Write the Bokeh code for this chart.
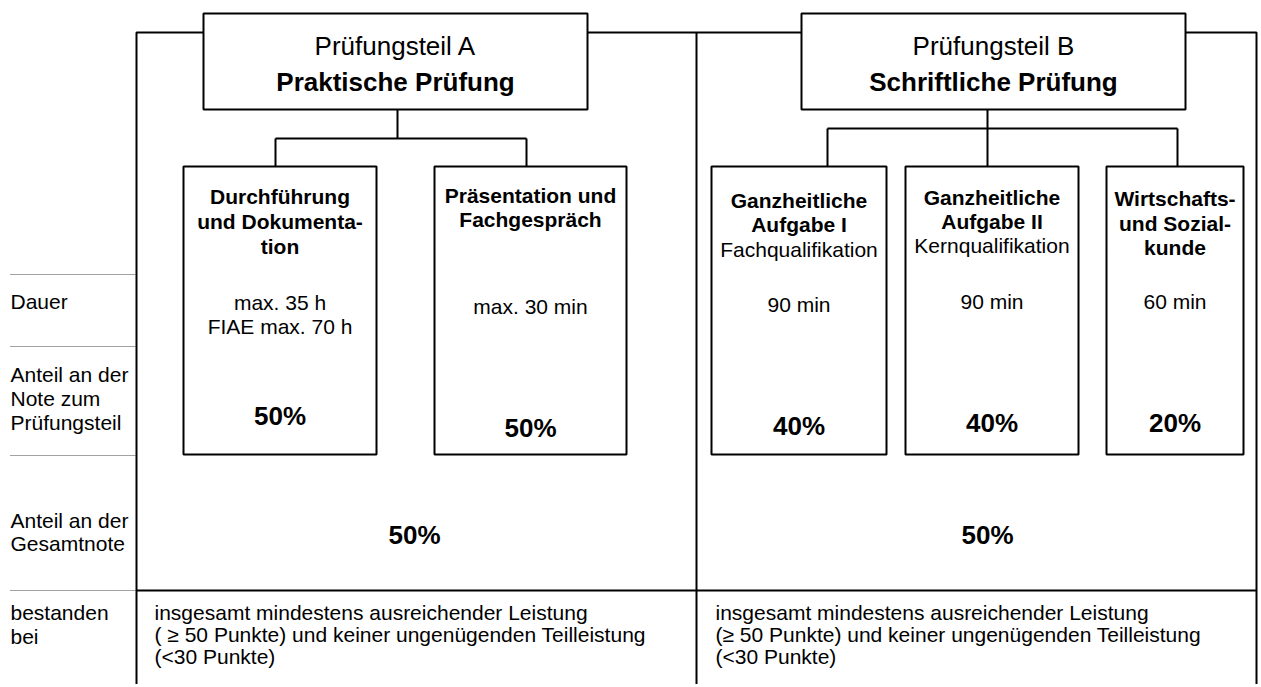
from bokeh.plotting import figure
from bokeh.models import Range1d
from bokeh.embed import file_html
from bokeh.resources import INLINE
from bokeh.core.properties import value

FONT = value("Liberation Sans")

# ---------------- content ----------------
row_labels = [["Dauer"],
              ["Anteil an der", "Note zum", "Prüfungsteil"],
              ["Anteil an der", "Gesamtnote"],
              ["bestanden", "bei"]]
part_titles = ["Prüfungsteil A", "Prüfungsteil B"]
part_names = ["Praktische Prüfung", "Schriftliche Prüfung"]
sub_titles = [["Durchführung", "und Dokumenta-", "tion"],
              ["Präsentation und", "Fachgespräch"],
              ["Ganzheitliche", "Aufgabe I"],
              ["Ganzheitliche", "Aufgabe II"],
              ["Wirtschafts-", "und Sozial-", "kunde"]]
sub_notes = ["", "", "Fachqualifikation", "Kernqualifikation", ""]
durations = [["max. 35 h", "FIAE max. 70 h"], ["max. 30 min"], ["90 min"], ["90 min"], ["60 min"]]
share_part = [50, 50, 40, 40, 20]
share_total = [50, 50]
pass_rule = [["insgesamt mindestens ausreichender Leistung",
              "( \u2265 50 Punkte) und keiner ungenügenden Teilleistung",
              "(<30 Punkte)"],
             ["insgesamt mindestens ausreichender Leistung",
              "(\u2265 50 Punkte) und keiner ungenügenden Teilleistung",
              "(<30 Punkte)"]]

# ---------------- layout (page pixels) ----------------
W, H = 1258, 684
label_x = 10
label_y = [[301], [374, 398, 422], [520, 543], [612, 636]]
sep_y = [274, 346, 455, 590]
frame_left, frame_mid, frame_right, frame_top, frame_bottom = 136, 696, 1256, 32, 690
part_boxes = [(203, 587, 13, 109), (801, 1185, 13, 109)]
part_title_y, part_name_y = 45, 81
sub_boxes = [(183, 376), (434, 626), (711, 886), (905, 1078), (1106, 1243)]
sub_top, sub_bottom = 166, 454
sub_title_y = [[196, 221, 246], [195, 219], [200, 224], [197, 221], [198, 223, 247]]
sub_note_y = [0, 0, 249, 245, 0]
dur_y = [[302, 326], [306], [304], [301], [301]]
pct_y = [415, 427, 425, 422, 422]
total_x, total_y = [414, 987], 534
rule_x, rule_y = [154, 715], [612, 634, 656]
conn_A = dict(stem_x=397, stem_end=138, bar_y=138, drops=[275, 526])
conn_B = dict(stem_x=987, stem_end=166, bar_y=128, drops=[827, 1177])

p = figure(width=W, height=H, output_backend="svg", toolbar_location=None,
           x_range=Range1d(0, W), y_range=Range1d(H, 0),
           x_axis_type=None, y_axis_type=None, min_border=0)
p.outline_line_color = None
p.grid.visible = False
p.background_fill_color = "white"
p.border_fill_color = "white"

LW = 2
# frame lines
xs = [[frame_left, frame_left, part_boxes[0][0]],
      [part_boxes[0][1], part_boxes[1][0]],
      [frame_mid, frame_mid],
      [part_boxes[1][1], frame_right, frame_right],
      [frame_left, frame_right]]
ys = [[frame_bottom, frame_top, frame_top],
      [frame_top, frame_top],
      [frame_top, frame_bottom],
      [frame_top, frame_top, frame_bottom],
      [sep_y[3], sep_y[3]]]
# connectors
for c, box in ((conn_A, part_boxes[0]), (conn_B, part_boxes[1])):
    xs.append([c["stem_x"], c["stem_x"]]); ys.append([box[3], c["stem_end"]])
    xs.append([c["drops"][0], c["drops"][1]]); ys.append([c["bar_y"], c["bar_y"]])
    for d in c["drops"]:
        xs.append([d, d]); ys.append([c["bar_y"], sub_top])
p.multi_line(xs, ys, line_color="black", line_width=LW)

# dotted row separators on the left
p.multi_line([[label_x, frame_left] for _ in sep_y], [[y, y] for y in sep_y],
             line_color="#444444", line_width=1, line_dash="1 1")

# boxes
p.quad(left=[b[0] for b in part_boxes], right=[b[1] for b in part_boxes],
       top=[b[2] for b in part_boxes], bottom=[b[3] for b in part_boxes],
       fill_color="white", line_color="black", line_width=LW)
p.quad(left=[b[0] for b in sub_boxes], right=[b[1] for b in sub_boxes],
       top=[sub_top] * len(sub_boxes), bottom=[sub_bottom] * len(sub_boxes),
       fill_color="white", line_color="black", line_width=LW)


def txt(x, y, s, size, bold=False, align="center"):
    p.text(x=x, y=y, text=s, text_font=FONT, text_font_size=size,
           text_font_style="bold" if bold else "normal",
           text_align=align, text_baseline="middle", text_color="black")


# left labels
for lines, yy in zip(row_labels, label_y):
    txt([label_x] * len(lines), yy, lines, "21px", align="left")

# part titles
for (l, r, t, b), ttl, nm in zip(part_boxes, part_titles, part_names):
    cx = (l + r) / 2
    txt([cx], [part_title_y], [ttl], "26px")
    txt([cx], [part_name_y], [nm], "26px", bold=True)

# sub boxes
for i, (l, r) in enumerate(sub_boxes):
    cx = (l + r) / 2
    txt([cx] * len(sub_titles[i]), sub_title_y[i], sub_titles[i], "21px", bold=True)
    if sub_notes[i]:
        txt([cx], [sub_note_y[i]], [sub_notes[i]], "21px")
    txt([cx] * len(durations[i]), dur_y[i], durations[i], "21px")
    txt([cx], [pct_y[i]], [f"{share_part[i]}%"], "26px", bold=True)

# total share
txt(total_x, [total_y] * 2, [f"{v}%" for v in share_total], "26px", bold=True)

# pass rules
for x0, lines in zip(rule_x, pass_rule):
    txt([x0] * len(lines), rule_y, lines, "21px", align="left")

open("out.html", "w").write(file_html(p, INLINE))
